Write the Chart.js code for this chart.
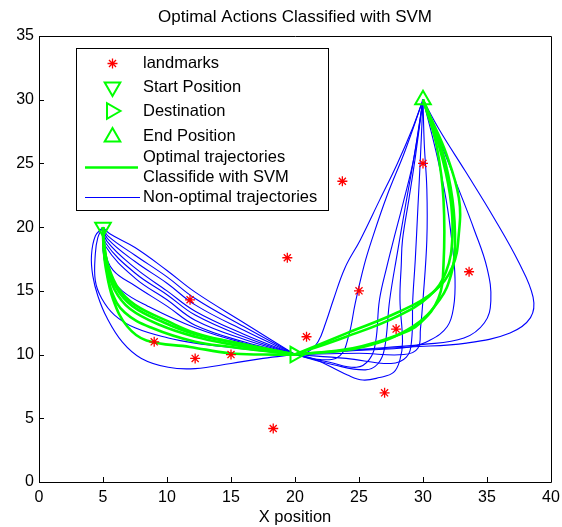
<!DOCTYPE html>
<html>
<head>
<meta charset="utf-8">
<script src="https://cdn.jsdelivr.net/npm/chart.js@4.4.1/dist/chart.umd.min.js"></script>
<style>
  html, body { margin: 0; padding: 0; background: #ffffff; }
  #wrap { width: 562px; height: 527px; }
</style>
</head>
<body>
<div id="wrap"><canvas id="c" width="562" height="527"></canvas></div>
<script>
// ---- text ----
const chartTitle = 'Optimal Actions Classified with SVM';
const xAxisTitle = 'X position';
const legendLabels = ['landmarks', 'Start Position', 'Destination', 'End Position',
  'Optimal trajectories', 'Classifide with SVM', 'Non-optimal trajectories'];

// ---- axes ----
const xTicks = [0, 5, 10, 15, 20, 25, 30, 35, 40];
const yTicks = [0, 5, 10, 15, 20, 25, 30, 35];

// ---- landmarks ----
const landmarkX = [9, 11.8, 12.2, 15, 18.3, 19.4, 20.9, 23.7, 25, 27, 27.9, 30, 33.6];
const landmarkY = [11, 14.3, 9.7, 10, 4.2, 17.6, 11.4, 23.6, 15, 7, 12, 25, 16.5];

// ---- key positions ----
const startPos = [5, 20];
const destination = [20, 10];
const endPos = [30, 30];

// ---- trajectories: start -> destination ----
const optimalLegOne = [
  [[5,20],[5.1,18.5],[5.4,17],[6.2,15.2],[7.5,13.9],[10.1,12.6],[12.2,11.7],[15,11],[17.5,10.5],[20,10]],
  [[5,20],[5.05,18.5],[5.3,17],[5.9,15.1],[7.1,13.6],[9.5,12.3],[12.2,11.4],[15,10.8],[17.5,10.4],[20,10]],
  [[5,20],[5.05,18.4],[5.25,17],[5.7,14.9],[6.7,13.3],[8.8,12.1],[12.2,11.0],[15,10.6],[17.5,10.3],[20,10]],
  [[5,20],[5.05,18.5],[5.2,16.9],[5.8,14.3],[6.9,12.2],[8.4,11.1],[11.8,10.6],[14.9,10.1],[17.5,10],[20,10]],
  [[5,20],[5.1,18.6],[5.35,17.1],[6.0,15.3],[7.3,13.8],[9.8,12.5],[12.2,11.6],[15.5,10.9],[20,10]]
];
const otherLegOne = [
  [[5,20],[5.5,19.5],[7.5,18.4],[10,16.6],[12.2,14.9],[16,12.5],[20,10]],
  [[5,20],[5.4,19.3],[7.5,17.8],[10,16.1],[12.2,14.4],[16,12.2],[20,10]],
  [[5,20],[5.35,19.1],[7.5,17.3],[10,15.6],[12.2,13.9],[16,11.9],[20,10]],
  [[5,20],[5.3,18.9],[7.5,16.8],[10,15.0],[12.2,13.4],[16,11.6],[20,10]],
  [[5,20],[5.25,18.7],[7.5,16.4],[10,14.7],[12.2,13.1],[16,11.4],[20,10]],
  [[5,20],[5.2,18.5],[7.5,16.0],[10,14.3],[12.2,12.7],[16,11.2],[20,10]],
  [[5,20],[5.15,18.2],[5.8,16.6],[7.5,15.4],[10,13.8],[12.2,12.3],[16,11.0],[20,10]],
  [[5,20],[5.0,18.2],[5.4,16.4],[6.5,15.0],[8.5,13.8],[12.2,12.1],[16,10.9],[20,10]],
  [[5,20],[4.6,19.2],[4.4,17.9],[4.4,15.8],[4.9,14.4],[5.9,13.1],[7.5,12.1],[10.1,11.3],[12.2,10.9],[15.5,10.5],[20,10]],
  [[5,20],[4.4,19.3],[4.1,17.8],[4.2,16.2],[4.6,14.6],[5.3,12.9],[6.5,11.0],[8,9.7],[10.1,9.0],[12.2,8.9],[15,9.3],[17.5,9.7],[20,10]]
];

// ---- trajectories: destination -> end ----
const optimalLegTwo = [
  [[20,10],[24.1,11.7],[28,13.3],[30.8,14.9],[32.3,16.9],[32.8,19.5],[32.8,22.3],[31.8,25.8],[30.6,28.6],[30,30]],
  [[20,10],[25.3,10.6],[29.2,12.2],[31.3,14.3],[32.2,16.3],[32.5,18.5],[32.3,22.2],[31.5,26],[30.5,28.7],[30,30]],
  [[20,10],[24.5,10.5],[28.2,11.6],[29.8,12.5],[31.2,14.4],[31.6,17],[31.6,22.2],[31.1,26.2],[30.4,28.8],[30,30]],
  [[20,10],[24,11.4],[28,13.0],[30.5,14.6],[31.8,16.5],[32.3,19.3],[32.1,22.6],[31.3,26.2],[30.4,28.8],[30,30]]
];
const otherLegTwo = [
  [[20,10],[24,10.3],[29,10.6],[33.4,10.9],[36.8,11.7],[38.4,12.9],[38.6,14.5],[37.5,17.2],[35.5,20.8],[33.3,24.4],[31.3,27.6],[30,30]],
  [[20,10],[25,10.4],[30,10.8],[33.2,11.3],[34.8,12.5],[35.3,14.2],[35.0,16.8],[34.0,19.8],[32.7,23.2],[31.3,26.8],[30,30]],
  [[20,10],[24.5,10.3],[29,10.6],[30.5,11.1],[31.9,12.2],[32.4,13.8],[32.5,16],[32.3,18.5],[31.8,22.2],[31,26],[30,30]],
  [[20,10],[21,10.2],[21.8,11],[22.4,12.5],[23,14.3],[23.9,16.8],[25.1,19],[26.6,22.1],[28,25],[29.2,27.8],[30,30]],
  [[20,10],[22,9.6],[23.5,9.9],[24.2,11.5],[24.7,14],[25.4,17],[26,19],[27.2,22.5],[28.6,26],[30,30]],
  [[20,10],[22.7,9.4],[24.8,9.0],[25.8,9.6],[26.3,11],[26.6,14.3],[27.2,17],[27.7,19],[28.5,22.1],[29.3,25.5],[30,30]],
  [[20,10],[21.4,9.7],[24.1,8.4],[25.3,8.0],[26.6,8.2],[27.7,8.6],[28.2,9.6],[28.4,11],[28.2,14.3],[28.3,17],[28.4,19],[28.9,22.2],[29.4,25.5],[30,30]],
  [[20,10],[23,9.2],[25.5,8.8],[26.5,9.3],[27,10.5],[27.4,14.3],[28,18],[28.6,21.5],[29.3,25.5],[30,30]],
  [[20,10],[24,9.7],[27.5,9.3],[28.7,9.8],[29.1,11],[29.2,14.3],[29.4,17.5],[29.6,21.5],[29.8,25.5],[30,30]],
  [[20,10],[25,10.1],[28.5,10],[29.6,10.5],[29.8,12],[30,14.3],[30.3,19],[30.3,23],[30.1,26.5],[30,30]]
];

// ---- styling ----
const FONT = "'Liberation Sans', Arial, Helvetica, sans-serif";
const RED = '#ff0000';
const GREEN = '#00ff00';
const BLUE = '#0000ff';

const toPoints = path => path.map(([x, y]) => ({ x, y }));

function pathDataset(path, color, width) {
  return {
    data: toPoints(path),
    showLine: true,
    borderColor: color,
    borderWidth: width,
    pointRadius: 0,
    pointHoverRadius: 0,
    tension: 0.4,
    fill: false
  };
}

function markerDataset(pos, rotation) {
  return {
    data: [{ x: pos[0], y: pos[1] }],
    pointStyle: 'triangle',
    rotation: rotation,
    radius: 9,
    borderColor: GREEN,
    backgroundColor: 'rgba(0,0,0,0)',
    borderWidth: 2
  };
}

// Earlier datasets are painted last (on top).
const datasets = [
  markerDataset(startPos, 180),
  markerDataset(destination, 90),
  markerDataset(endPos, 0),
  {
    data: landmarkX.map((x, i) => ({ x, y: landmarkY[i] })),
    pointStyle: 'star',
    radius: 5,
    borderColor: RED,
    backgroundColor: RED,
    borderWidth: 1.3
  },
  ...optimalLegOne.map(p => pathDataset(p, GREEN, 2.6)),
  ...optimalLegTwo.map(p => pathDataset(p, GREEN, 2.6)),
  ...otherLegOne.map(p => pathDataset(p, BLUE, 1.1)),
  ...otherLegTwo.map(p => pathDataset(p, BLUE, 1.1))
];

// Title centred over the plot area.
const plotTitle = {
  id: 'plotTitle',
  afterDraw(chart) {
    const { ctx, chartArea: a } = chart;
    ctx.save();
    ctx.fillStyle = '#000000';
    ctx.font = '17px ' + FONT;
    ctx.textAlign = 'center';
    ctx.textBaseline = 'middle';
    ctx.fillText(chartTitle, (a.left + a.right) / 2, 17);
    ctx.restore();
  }
};

// Axis box with inward tick marks.
const frameTicks = {
  id: 'frameTicks',
  afterDatasetsDraw(chart) {
    const { ctx, chartArea: a, scales: { x, y } } = chart;
    ctx.save();
    ctx.strokeStyle = '#000000';
    ctx.lineWidth = 1;
    ctx.beginPath();
    ctx.rect(Math.round(a.left) + 0.5, Math.round(a.top) + 0.5,
             Math.round(a.right - a.left), Math.round(a.bottom - a.top));
    ctx.stroke();
    ctx.beginPath();
    xTicks.forEach(v => {
      const px = Math.round(x.getPixelForValue(v)) + 0.5;
      ctx.moveTo(px, a.bottom);
      ctx.lineTo(px, a.bottom - 5);
    });
    yTicks.forEach(v => {
      const py = Math.round(y.getPixelForValue(v)) + 0.5;
      ctx.moveTo(a.left, py);
      ctx.lineTo(a.left + 5, py);
    });
    ctx.stroke();
    ctx.restore();
  }
};

function drawTriangle(ctx, cx, cy, r, deg) {
  let rad = deg * Math.PI / 180;
  ctx.beginPath();
  for (let k = 0; k < 3; k++) {
    const px = cx + Math.sin(rad) * r;
    const py = cy - Math.cos(rad) * r;
    if (k === 0) ctx.moveTo(px, py); else ctx.lineTo(px, py);
    rad += 2 * Math.PI / 3;
  }
  ctx.closePath();
  ctx.stroke();
}

function drawStar(ctx, cx, cy, r) {
  ctx.beginPath();
  for (let k = 0; k < 4; k++) {
    const ang = k * Math.PI / 4;
    ctx.moveTo(cx - Math.cos(ang) * r, cy - Math.sin(ang) * r);
    ctx.lineTo(cx + Math.cos(ang) * r, cy + Math.sin(ang) * r);
  }
  ctx.stroke();
}

// Boxed legend in the upper-left of the plot.
const boxLegend = {
  id: 'boxLegend',
  afterDraw(chart) {
    const ctx = chart.ctx;
    const bx = 76.5, by = 48.5, bw = 252, bh = 162;
    ctx.save();
    ctx.fillStyle = '#ffffff';
    ctx.fillRect(bx, by, bw, bh);
    ctx.strokeStyle = '#000000';
    ctx.lineWidth = 1;
    ctx.strokeRect(bx, by, bw, bh);

    const mx = 112.5;
    ctx.strokeStyle = RED;
    ctx.lineWidth = 1.3;
    drawStar(ctx, mx, 63.5, 5);

    ctx.strokeStyle = GREEN;
    ctx.lineWidth = 2;
    drawTriangle(ctx, mx, 87, 9, 180);
    drawTriangle(ctx, mx - 1, 111, 9, 90);
    drawTriangle(ctx, mx, 137, 9, 0);

    ctx.lineWidth = 2.6;
    ctx.beginPath();
    ctx.moveTo(85, 167.5); ctx.lineTo(138, 167.5);
    ctx.stroke();

    ctx.strokeStyle = BLUE;
    ctx.lineWidth = 1.1;
    ctx.beginPath();
    ctx.moveTo(85, 197.5); ctx.lineTo(140, 197.5);
    ctx.stroke();

    ctx.fillStyle = '#000000';
    ctx.font = '16.5px ' + FONT;
    ctx.textBaseline = 'middle';
    ctx.textAlign = 'left';
    const ys = [63, 87, 111, 136, 157, 177, 197];
    legendLabels.forEach((t, i) => ctx.fillText(t, 143, ys[i]));
    ctx.restore();
  }
};

new Chart(document.getElementById('c'), {
  type: 'scatter',
  data: { datasets },
  options: {
    responsive: false,
    animation: false,
    devicePixelRatio: 1,
    layout: { padding: { left: 0, right: 11, top: 36, bottom: 0 } },
    plugins: {
      legend: { display: false },
      tooltip: { enabled: false },
      title: { display: false }
    },
    scales: {
      x: {
        type: 'linear',
        min: 0, max: 40,
        afterBuildTicks: s => { s.ticks = xTicks.map(v => ({ value: v })); },
        ticks: { color: '#000000', font: { family: FONT, size: 16 }, padding: 6, maxRotation: 0, autoSkip: false },
        grid: { display: false, drawTicks: false },
        border: { display: false },
        title: { display: true, text: xAxisTitle, color: '#000000',
                 font: { family: FONT, size: 16.5 }, padding: { top: 0, bottom: 0 } },
        afterFit: s => { s.height = 45; s.paddingLeft = 0; s.paddingRight = 0; }
      },
      y: {
        type: 'linear',
        min: 0, max: 35,
        afterBuildTicks: s => { s.ticks = yTicks.map(v => ({ value: v })); },
        ticks: { color: '#000000', font: { family: FONT, size: 16 }, padding: 5, autoSkip: false },
        grid: { display: false, drawTicks: false },
        border: { display: false },
        afterFit: s => { s.width = 39; s.paddingTop = 0; s.paddingBottom = 0; }
      }
    }
  },
  plugins: [frameTicks, boxLegend, plotTitle]
});
</script>
</body>
</html>
